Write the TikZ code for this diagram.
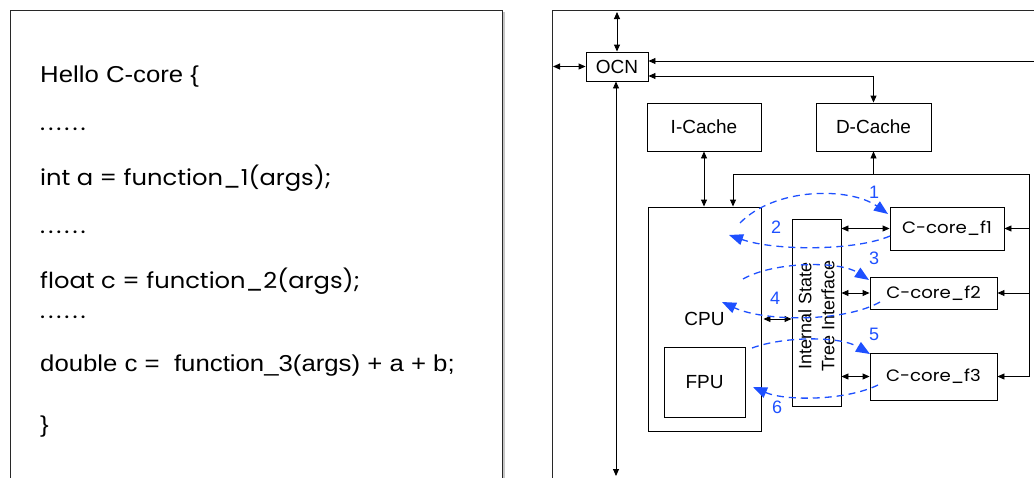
\documentclass[tikz,border=0pt]{standalone}
\usepackage{fontspec}
\setmainfont{Liberation Sans}
\newfontfamily\hel[FakeStretch=1.12]{Liberation Sans}
\newfontfamily\geo[FakeStretch=1.1]{Poppins}
\newcommand\sixdots{.\kern3pt.\kern3pt.\kern3pt.\kern3pt.\kern3pt.}
\usetikzlibrary{arrows.meta}
\definecolor{flowblue}{RGB}{30,80,255}
\definecolor{framec}{RGB}{40,40,40}
\tikzset{
 box/.style={draw=black, line width=0.9pt, inner sep=0pt, font=\fontsize{19}{19}\selectfont},
 ccore/.style={box, font=\geo\fontsize{16.5}{16.5}\selectfont},
 conn/.style={line width=0.9pt, draw=black},
 one/.style={conn, -{Triangle[length=7pt,width=6pt]}},
 two/.style={conn, {Triangle[length=7pt,width=6pt]}-{Triangle[length=7pt,width=6pt]}},
 flow/.style={draw=flowblue, line width=1.3pt, dash pattern=on 7pt off 5pt, -{Triangle[length=14pt,width=11pt]}},
 num/.style={text=flowblue, font=\fontsize{18}{18}\selectfont, inner sep=0pt},
 code/.style={anchor=base west, inner sep=0pt, font=\hel\fontsize{23}{23}\selectfont},
 gcode/.style={anchor=base west, inner sep=0pt, font=\geo\fontsize{22}{22}\selectfont},
 panel/.style={draw=framec, line width=1pt},
}
\begin{document}
\begin{tikzpicture}[x=1pt,y=-1pt]
\useasboundingbox (0,0) rectangle (1034,477);
% left panel
\draw[gray!45, line width=2.5pt] (504,12) -- (504,480);
\draw[panel] (10,480) -- (10,10) -- (502,10) -- (502,480);
\node[code] (l1) at (40,82) {Hello C-core \{};
\node[gcode] (l2) at (40,130) {\sixdots};
\node[gcode] (l3) at (40,185) {int a = function\_1(args);};
\node[gcode] (l4) at (40,233) {\sixdots};
\node[gcode] (l5) at (40,288) {float c = function\_2(args);};
\node[gcode] (l6) at (40,318) {\sixdots};
\node[code] (l7) at (40,371) {double c = \ function\_3(args) + a + b;};
\node[code] (l8) at (40,432) {\}};
% right panel
\draw[panel] (552,480) -- (552,10) -- (1036,10);
\node[box, minimum width=62pt, minimum height=29pt] (ocn) at (617,66.5) {OCN};
\node[box, minimum width=114pt, minimum height=48pt] (icache) at (704,127) {I-Cache};
\node[box, minimum width=115pt, minimum height=48pt] (dcache) at (873.5,127) {D-Cache};
\node[box, minimum width=113pt, minimum height=224pt] (cpu) at (704.5,319) {CPU};
\node[box, minimum width=81pt, minimum height=70pt] (fpu) at (704.5,382) {FPU};
\node[box, minimum width=49pt, minimum height=187pt] (ist) at (816.5,312.5) {};
\node[rotate=90, align=center, inner sep=0pt, font=\fontsize{18}{23}\selectfont] (istlabel) at (816.5,316) {Internal State\\Tree Interface};
\node[ccore, minimum width=114pt, minimum height=43pt] (f1) at (947,228.5) {C-core\_f1};
\node[ccore, minimum width=127pt, minimum height=32pt] (f2) at (933.5,293) {C-core\_f2};
\node[ccore, minimum width=127pt, minimum height=47pt] (f3) at (933.5,376.5) {C-core\_f3};
% coordinates
\coordinate (otop) at (617,12);
\coordinate (oleft) at (553,66.5);
\coordinate (obot) at (616,476);
\coordinate (rin) at (1036,61);
\coordinate (dk) at (873.5,76);
\coordinate (j1) at (873.5,174);
\coordinate (j2) at (733,174);
\coordinate (j3) at (1029,174);
\coordinate (j4) at (1029,376.5);
% black connectors
\draw[two] (ocn.north) -- (otop);
\draw[two] (ocn.west) -- (oleft);
\draw[two] (ocn.south -| obot) -- (obot);
\draw[one] (rin) -- (ocn.east |- rin);
\draw[two] (dcache.north) -- (dk) -- (ocn.east |- dk);
\draw[two] (icache.south) -- (cpu.north -| icache.south);
\draw[two] (dcache.south) -- (j1) -- (j2) -- (j2 |- cpu.north);
\draw[conn] (j1) -- (j3) -- (j4);
\draw[one] (j3 |- f1.east) -- (f1.east);
\draw[one] (j3 |- f2.east) -- (f2.east);
\draw[one] (j4) -- (f3.east);
\draw[two] (ist.east |- f1.west) -- (f1.west);
\draw[two] (ist.east |- f2.west) -- (f2.west);
\draw[two] (ist.east |- f3.west) -- (f3.west);
\draw[two] ([xshift=2pt]cpu.east |- 0,319) -- (ist.west |- 0,319);
% blue flows
\coordinate (a1) at (740,223); \coordinate (b1) at (888,214);
\coordinate (a2) at (890,236); \coordinate (b2) at (729,235);
\coordinate (a3) at (743,279); \coordinate (b3) at (869,280);
\coordinate (a4) at (880,302); \coordinate (b4) at (722,302);
\coordinate (a5) at (752,348); \coordinate (b5) at (870,354);
\coordinate (a6) at (878,385); \coordinate (b6) at (753,387);
\draw[flow] (a1) .. controls (775,187) and (850,187) .. (b1);
\draw[flow] (a2) .. controls (855,251) and (775,251) .. (b2);
\draw[flow] (a3) .. controls (775,261) and (840,261) .. (b3);
\draw[flow] (a4) .. controls (845,322) and (765,322) .. (b4);
\draw[flow] (a5) .. controls (785,336) and (840,336) .. (b5);
\draw[flow] (a6) .. controls (845,401) and (785,401) .. (b6);
\node[num] (n1) at (874,192) {1};
\node[num] (n2) at (776,227) {2};
\node[num] (n3) at (874,258) {3};
\node[num] (n4) at (775,298) {4};
\node[num] (n5) at (874,334) {5};
\node[num] (n6) at (777,407) {6};
\end{tikzpicture}
\end{document}
